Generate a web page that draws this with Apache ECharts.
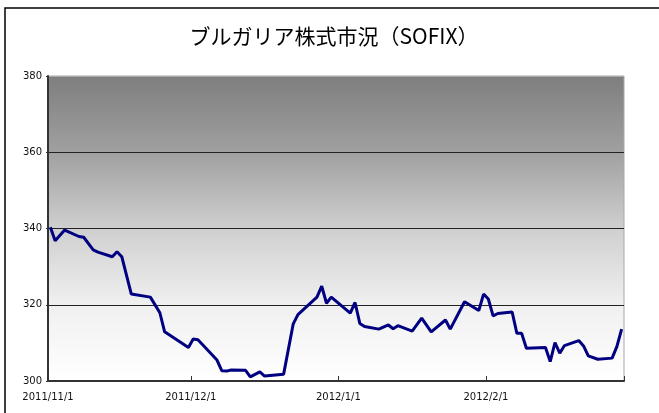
<!DOCTYPE html>
<html>
<head>
<meta charset="utf-8">
<script src="https://cdn.jsdelivr.net/npm/echarts@6/dist/echarts.min.js"></script>
<style>
html,body{margin:0;padding:0;background:#fff;}
#chart{width:659px;height:413px;}
</style>
</head>
<body>
<div id="chart"></div>
<script>
const titleText = 'ブルガリア株式市況（SOFIX）';
const dates = [
  '2011-11-01','2011-11-02','2011-11-04','2011-11-07','2011-11-08','2011-11-10','2011-11-11',
  '2011-11-14','2011-11-15','2011-11-16','2011-11-18','2011-11-22','2011-11-24','2011-11-25',
  '2011-11-30','2011-12-01','2011-12-02','2011-12-06','2011-12-07','2011-12-08','2011-12-09',
  '2011-12-12','2011-12-13','2011-12-15','2011-12-16','2011-12-20','2011-12-22','2011-12-23',
  '2011-12-27','2011-12-28','2011-12-29','2011-12-30','2012-01-03','2012-01-04','2012-01-05',
  '2012-01-06','2012-01-09','2012-01-11','2012-01-12','2012-01-13','2012-01-16','2012-01-18',
  '2012-01-20','2012-01-23','2012-01-24','2012-01-27','2012-01-30','2012-01-31','2012-02-01',
  '2012-02-02','2012-02-03','2012-02-06','2012-02-07','2012-02-08','2012-02-09','2012-02-13',
  '2012-02-14','2012-02-15','2012-02-16','2012-02-17','2012-02-20','2012-02-21','2012-02-22',
  '2012-02-24','2012-02-27','2012-02-28','2012-02-29'
];
const sofix = [
  340.3,336.8,339.6,337.9,337.7,334.4,333.8,
  332.6,333.9,332.6,322.8,322.0,317.9,312.9,
  308.8,311.0,310.8,305.5,302.7,302.6,302.9,
  302.8,301.1,302.4,301.3,301.8,314.9,317.4,
  322.0,324.9,320.4,322.0,317.8,320.6,315.1,
  314.3,313.6,314.7,313.7,314.5,313.1,316.5,
  312.9,316.0,313.6,320.8,318.5,322.8,321.5,
  317.1,317.7,318.1,312.5,312.5,308.6,308.8,
  305.1,310.1,307.3,309.3,310.6,309.2,306.6,
  305.7,306.0,309.0,313.6
];
const xStart = '2011-11-01', xEnd = '2012-03-01';
const xTickDates = ['2011-11-01','2011-12-01','2012-01-01','2012-02-01','2012-03-01'];
const xLabelDates = ['2011-11-01','2011-12-01','2012-01-01','2012-02-01'];
const yMin = 300, yMax = 380, yStep = 20;

const DAY = 86400000;
function ts(d){ const p = d.split('-').map(Number); return Date.UTC(p[0], p[1]-1, p[2]); }
function dayIdx(d){ return (ts(d) - ts(xStart)) / DAY; }
const seriesData = dates.map((d,i)=>[dayIdx(d)+0.5, sofix[i]]);

const chart = echarts.init(document.getElementById('chart'), null, {renderer:'canvas'});
chart.setOption({
  backgroundColor:'#ffffff',
  animation:false,
  graphic:[
    {type:'rect', shape:{x:5,y:8,width:700,height:500}, style:{fill:'none', stroke:'#000', lineWidth:1.5}, z:-10},
    {type:'text', x:334, y:36, style:{text:titleText, fontSize:21, fontFamily:'"Noto Sans CJK JP", sans-serif', fill:'#000', textAlign:'center', textVerticalAlign:'middle'}}
  ],
  grid:{
    left:48, top:76, width:576, height:305,
    show:true, borderColor:'#a8a8a8', borderWidth:1,
    backgroundColor: new echarts.graphic.LinearGradient(0,0,0,1,[
      {offset:0,color:'#7e7e7e'},
      {offset:0.25,color:'#a0a0a0'},
      {offset:0.5,color:'#cfcfcf'},
      {offset:0.75,color:'#f0f0f0'},
      {offset:1,color:'#ffffff'}
    ])
  },
  xAxis:{
    type:'value',
    min:0, max:dayIdx(xEnd),
    axisLine:{show:true, onZero:false, lineStyle:{color:'#333', width:2}},
    axisTick:{show:true, inside:true, length:5, lineStyle:{color:'#333'}, customValues: xTickDates.map(dayIdx)},
    axisLabel:{
      customValues: xLabelDates.map(dayIdx),
      margin:11, fontSize:10, color:'#111', fontFamily:'"DejaVu Sans", sans-serif',
      formatter:function(v){ const d=new Date(ts(xStart)+Math.round(v)*DAY); return d.getUTCFullYear()+'/'+(d.getUTCMonth()+1)+'/'+d.getUTCDate(); }
    },
    splitLine:{show:false}
  },
  yAxis:{
    type:'value', min:yMin, max:yMax, interval:yStep,
    axisLine:{show:true, lineStyle:{color:'#333', width:2}},
    axisTick:{show:true, length:2, lineStyle:{color:'#333'}},
    axisLabel:{fontSize:10, color:'#111', margin:6, fontFamily:'"DejaVu Sans", sans-serif'},
    splitLine:{show:true, lineStyle:{color:['#222','#222','#222','#222','#a8a8a8'], width:1}}
  },
  series:[{
    type:'line', data:seriesData, showSymbol:false, symbol:'none',
    lineStyle:{color:'#000080', width:3}, z:5
  }]
});
</script>
</body>
</html>
